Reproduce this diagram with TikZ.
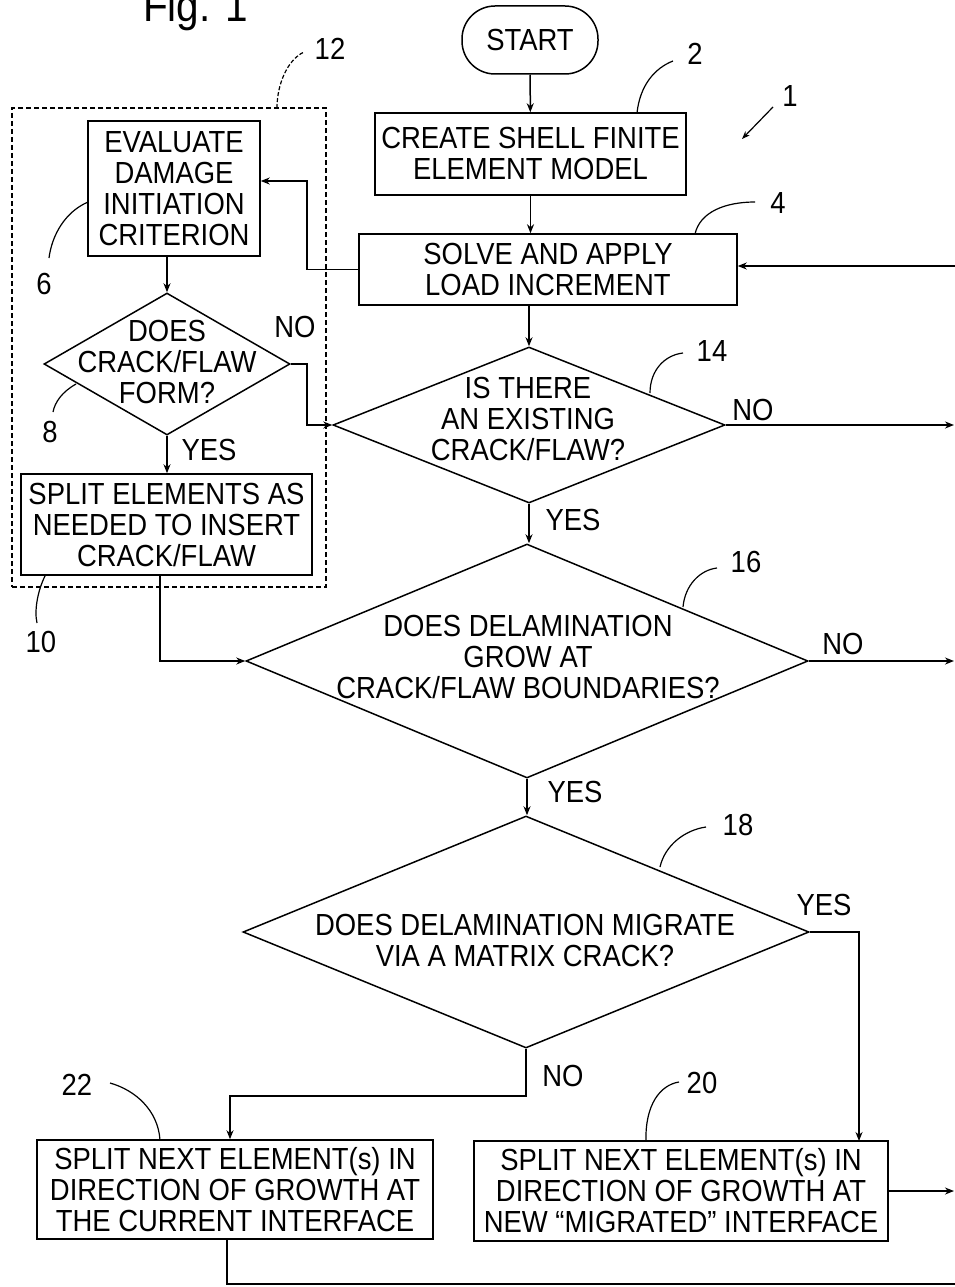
\documentclass[tikz,border=0pt]{standalone}
\usepackage{fontspec}
\setmainfont[FakeStretch=0.9]{Liberation Sans}
\usetikzlibrary{shapes.geometric,arrows.meta,calc}
\begin{document}
\begin{tikzpicture}[x=1pt,y=-1pt,
  every node/.style={font=\fontsize{30.5}{31}\selectfont, text=black},
  line/.style={line width=1.5pt, draw=black},
  arr/.style={line, -{Stealth[length=9pt,width=7pt]}},
  lead/.style={line width=1.2pt, draw=black},
  box/.style={draw, line width=1.5pt, rectangle, inner sep=0pt, align=center},
  dia/.style={draw, line width=1.5pt, diamond, inner sep=0pt},
  lbl/.style={inner sep=0pt, align=center},
  grpbox/.style={draw, line width=1.2pt, dash pattern=on 5pt off 3pt, rectangle, inner sep=0pt}]
\useasboundingbox (0,0) rectangle (955,1287);

% title
\node[lbl, anchor=base west, font=\fontsize{45}{50}\selectfont] (fig) at (143,22) {Fig. 1};

% main boxes
\node[box, rounded corners=33pt, minimum width=136pt, minimum height=68pt] (start) at (530,40) {START};
\node[box, minimum width=311pt, minimum height=82pt] (create) at (530.5,154) {CREATE SHELL FINITE\\ELEMENT MODEL};
\node[box, minimum width=378pt, minimum height=71pt] (solve) at (548,269.5) {SOLVE AND APPLY\\LOAD INCREMENT};

% group 12
\node[grpbox, minimum width=314pt, minimum height=479pt] (grp) at (169,347.5) {};
\node[box, minimum width=172pt, minimum height=135pt] (eval) at (174,188.5) {EVALUATE\\DAMAGE\\INITIATION\\CRITERION};
\node[dia, minimum width=246pt, minimum height=142pt] (d8) at (167,364) {};
\node[lbl] (t8) at (167,362) {DOES\\CRACK/FLAW\\FORM?};
\node[box, minimum width=291pt, minimum height=101pt] (split) at (166.5,524.5) {SPLIT ELEMENTS AS\\NEEDED TO INSERT\\CRACK/FLAW};

% decisions
\node[dia, minimum width=392pt, minimum height=156pt] (d14) at (529,425) {};
\node[lbl] (t14) at (528,419) {IS THERE\\AN EXISTING\\CRACK/FLAW?};
\node[dia, minimum width=562pt, minimum height=234pt] (d16) at (527,661) {};
\node[lbl] (t16) at (528,657) {DOES DELAMINATION\\GROW AT\\CRACK/FLAW BOUNDARIES?};
\node[dia, minimum width=566pt, minimum height=232pt] (d18) at (526,932) {};
\node[lbl] (t18) at (525,940) {DOES DELAMINATION MIGRATE\\VIA A MATRIX CRACK?};

% bottom boxes
\node[box, minimum width=396pt, minimum height=99pt] (b22) at (235,1189.5) {SPLIT NEXT ELEMENT(s) IN\\DIRECTION OF GROWTH AT\\THE CURRENT INTERFACE};
\node[box, minimum width=414pt, minimum height=100pt] (b20) at (681,1191) {SPLIT NEXT ELEMENT(s) IN\\DIRECTION OF GROWTH AT\\NEW “MIGRATED” INTERFACE};

% yes/no labels
\node[lbl] (no8) at (295,327) {NO};
\node[lbl] (yes8) at (209,450) {YES};
\node[lbl] (no14) at (753,410) {NO};
\node[lbl] (yes14) at (573,520) {YES};
\node[lbl] (no16) at (843,644) {NO};
\node[lbl] (yes16) at (575,792) {YES};
\node[lbl] (yes18) at (824,905) {YES};
\node[lbl] (no18) at (563,1076) {NO};

% reference numerals
\node[lbl] (n1) at (790,96) {1};
\node[lbl] (n2) at (695,54) {2};
\node[lbl] (n4) at (778,203) {4};
\node[lbl] (n12) at (330,49) {12};
\node[lbl] (n6) at (44,284) {6};
\node[lbl] (n8) at (50,432) {8};
\node[lbl] (n10) at (41,642) {10};
\node[lbl] (n14) at (712,351) {14};
\node[lbl] (n16) at (746,562) {16};
\node[lbl] (n18) at (738,825) {18};
\node[lbl] (n20) at (702,1083) {20};
\node[lbl] (n22) at (77,1085) {22};

% edge coordinates
\coordinate (inR) at (955,266);
\coordinate (outR) at (954,0);
\coordinate (loopR) at (955,1284);
\coordinate (y20) at (859,1141);

% connectors
\draw[arr] (start) -- (create);
\draw[arr] (create.south) -- (create.south |- solve.north);
\draw[arr] (d14.north |- solve.south) -- (d14.north);
\draw[arr] (inR) -- ([yshift=3.5pt]solve.east);
\draw[arr] (solve.west) -- (307,269.5) |- ([yshift=7.5pt]eval.east);
\draw[arr] (d8.north |- eval.south) -- (d8.north);
\draw[arr] (d8.east) -- (307,364) |- (d14.west);
\draw[arr] (d8.south) -- (d8.south |- split.north);
\draw[arr] ([xshift=-6.5pt]split.south) |- (d16.west);
\draw[arr] (d14.east) -- (d14.east -| outR);
\draw[arr] (d14.south) -- (d14.south |- d16.north);
\draw[arr] (d16.east) -- (d16.east -| outR);
\draw[arr] (d16.south) -- (d16.south |- d18.north);
\draw[arr] (d18.east) -| (y20);
\draw[arr] (d18.south) -- ++(0,47) -| ([xshift=-5pt]b22.north);
\draw[arr] (b20.east) -- (b20.east -| outR);
\draw[line] ([xshift=-8pt]b22.south) |- (loopR);

% leaders
\draw[lead, -{Stealth[length=8pt,width=6pt]}] (773,107) -- (742,139);
\draw[lead] (637,113) .. controls (640,85) and (655,68) .. (673,61);
\draw[lead] (695,234) .. controls (700,212) and (725,202) .. (755,202);
\draw[lead, dash pattern=on 4pt off 2pt] (277,108) .. controls (277,85) and (287,60) .. (304,52);
\draw[lead] (88,202) .. controls (65,212) and (52,235) .. (49,258);
\draw[lead] (76,384) .. controls (62,392) and (55,402) .. (53,412);
\draw[lead] (45,576) .. controls (38,590) and (34,610) .. (37,623);
\draw[lead] (650,393) .. controls (650,370) and (665,355) .. (683,353);
\draw[lead] (683,607) .. controls (685,585) and (700,570) .. (717,568);
\draw[lead] (660,867) .. controls (665,845) and (685,830) .. (706,827);
\draw[lead] (110,1083) .. controls (135,1090) and (158,1110) .. (160,1140);
\draw[lead] (646,1141) .. controls (645,1105) and (660,1085) .. (679,1082);
\end{tikzpicture}
\end{document}
